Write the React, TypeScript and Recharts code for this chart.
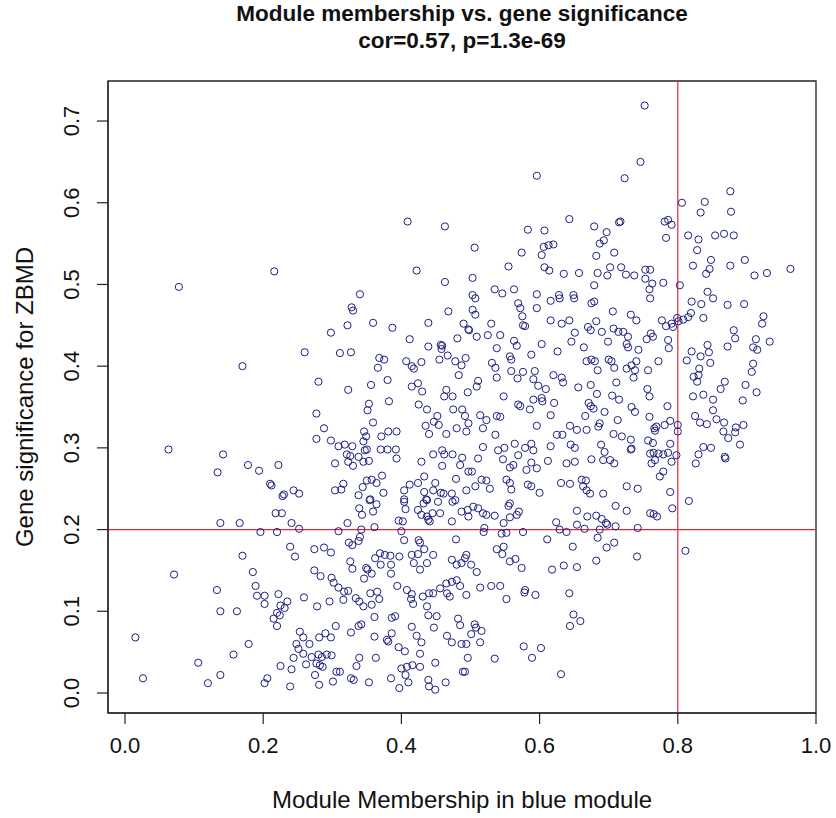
import { ScatterChart, Scatter, XAxis, YAxis, ReferenceLine, ReferenceArea } from 'recharts';

// module membership / gene significance pairs
const upperPoints: [number, number][] = [
  [0.078, 0.497], [0.216, 0.516], [0.409, 0.577], [0.463, 0.571], [0.422, 0.517], [0.463, 0.503], [0.340, 0.488],
  [0.752, 0.719], [0.746, 0.650], [0.723, 0.630], [0.596, 0.633], [0.643, 0.580], [0.583, 0.567], [0.607, 0.566],
  [0.679, 0.571], [0.697, 0.564], [0.715, 0.576], [0.717, 0.577], [0.693, 0.554], [0.687, 0.550], [0.506, 0.545],
  [0.574, 0.539], [0.606, 0.546], [0.613, 0.548], [0.620, 0.549], [0.603, 0.536], [0.682, 0.535], [0.708, 0.539],
  [0.555, 0.522], [0.607, 0.521], [0.614, 0.517], [0.635, 0.513], [0.657, 0.514], [0.684, 0.514], [0.698, 0.511],
  [0.702, 0.521], [0.718, 0.521], [0.725, 0.512], [0.737, 0.511], [0.753, 0.518], [0.760, 0.518], [0.753, 0.507],
  [0.763, 0.501], [0.759, 0.494], [0.679, 0.499], [0.503, 0.508], [0.535, 0.494], [0.546, 0.489], [0.563, 0.494],
  [0.596, 0.488], [0.628, 0.487], [0.649, 0.487], [0.503, 0.487],
  [0.876, 0.614], [0.806, 0.600], [0.839, 0.601], [0.833, 0.588], [0.877, 0.589], [0.781, 0.577], [0.786, 0.579],
  [0.791, 0.573], [0.783, 0.557], [0.815, 0.560], [0.830, 0.555], [0.828, 0.542], [0.854, 0.560], [0.867, 0.562],
  [0.881, 0.560], [0.822, 0.523], [0.848, 0.530], [0.846, 0.519], [0.841, 0.513], [0.876, 0.523], [0.897, 0.530],
  [0.911, 0.511], [0.929, 0.514], [0.963, 0.519], [0.779, 0.502], [0.803, 0.499], [0.843, 0.491],
];

const middleLeftPoints: [number, number][] = [
  [0.170, 0.400], [0.063, 0.298], [0.142, 0.292], [0.134, 0.270], [0.178, 0.279], [0.194, 0.272], [0.222, 0.279],
  [0.210, 0.256], [0.212, 0.254], [0.228, 0.241],
  [0.328, 0.472], [0.330, 0.468], [0.322, 0.450], [0.298, 0.441], [0.359, 0.453], [0.387, 0.447], [0.439, 0.453],
  [0.468, 0.467], [0.490, 0.452], [0.497, 0.445], [0.412, 0.433], [0.481, 0.434], [0.439, 0.424], [0.457, 0.426],
  [0.459, 0.425], [0.458, 0.421], [0.260, 0.417], [0.311, 0.416], [0.327, 0.417], [0.368, 0.410], [0.375, 0.408],
  [0.366, 0.398], [0.407, 0.406], [0.415, 0.400], [0.418, 0.397], [0.429, 0.405], [0.455, 0.408], [0.467, 0.413],
  [0.478, 0.406], [0.487, 0.401], [0.493, 0.410], [0.483, 0.389], [0.280, 0.381], [0.323, 0.371], [0.356, 0.377],
  [0.380, 0.383], [0.415, 0.375], [0.424, 0.379], [0.430, 0.369], [0.465, 0.371], [0.462, 0.363], [0.474, 0.363],
  [0.496, 0.368], [0.382, 0.357], [0.353, 0.354], [0.351, 0.346], [0.359, 0.331], [0.425, 0.353], [0.437, 0.347],
  [0.452, 0.339], [0.447, 0.332], [0.435, 0.327], [0.440, 0.317], [0.454, 0.328], [0.465, 0.317], [0.475, 0.347],
  [0.488, 0.347], [0.492, 0.339], [0.480, 0.324], [0.494, 0.320], [0.277, 0.342], [0.288, 0.324], [0.277, 0.311],
  [0.298, 0.309], [0.304, 0.281], [0.346, 0.320], [0.349, 0.314], [0.345, 0.308], [0.347, 0.297], [0.371, 0.314],
  [0.381, 0.320], [0.393, 0.320], [0.370, 0.298], [0.380, 0.298], [0.392, 0.298], [0.393, 0.287], [0.309, 0.302],
  [0.318, 0.304], [0.329, 0.302], [0.321, 0.292], [0.326, 0.290], [0.338, 0.289], [0.323, 0.283], [0.330, 0.278],
  [0.345, 0.283], [0.353, 0.284], [0.350, 0.298], [0.230, 0.243], [0.244, 0.248], [0.252, 0.244], [0.304, 0.248],
  [0.313, 0.249], [0.316, 0.256], [0.344, 0.252], [0.350, 0.260], [0.357, 0.261], [0.364, 0.257], [0.372, 0.266],
  [0.374, 0.245], [0.355, 0.237], [0.338, 0.242], [0.429, 0.283], [0.446, 0.292], [0.459, 0.297], [0.462, 0.292],
  [0.474, 0.292], [0.459, 0.278], [0.485, 0.279], [0.488, 0.288], [0.497, 0.271], [0.479, 0.262], [0.494, 0.248],
  [0.404, 0.248], [0.412, 0.255], [0.424, 0.257], [0.433, 0.265], [0.449, 0.257], [0.433, 0.246], [0.436, 0.237],
  [0.446, 0.248], [0.457, 0.245], [0.461, 0.244], [0.473, 0.244], [0.478, 0.236], [0.404, 0.237],
];

const middleRightPoints: [number, number][] = [
  [0.507, 0.483], [0.503, 0.469], [0.507, 0.463], [0.569, 0.477], [0.572, 0.471], [0.596, 0.471], [0.616, 0.480],
  [0.629, 0.483], [0.650, 0.483], [0.675, 0.477], [0.679, 0.479], [0.706, 0.467], [0.732, 0.463], [0.740, 0.456],
  [0.760, 0.483], [0.530, 0.452], [0.498, 0.444], [0.509, 0.436], [0.525, 0.438], [0.543, 0.438], [0.575, 0.461],
  [0.576, 0.450], [0.579, 0.449], [0.563, 0.431], [0.567, 0.425], [0.603, 0.427], [0.616, 0.456], [0.632, 0.452],
  [0.643, 0.456], [0.651, 0.441], [0.646, 0.430], [0.670, 0.448], [0.674, 0.444], [0.682, 0.455], [0.690, 0.442],
  [0.707, 0.446], [0.714, 0.442], [0.721, 0.442], [0.699, 0.430], [0.728, 0.436], [0.726, 0.427], [0.728, 0.423],
  [0.743, 0.420], [0.755, 0.433], [0.761, 0.440], [0.538, 0.422], [0.531, 0.404], [0.536, 0.398], [0.538, 0.386],
  [0.557, 0.412], [0.559, 0.408], [0.559, 0.394], [0.568, 0.385], [0.576, 0.393], [0.588, 0.414], [0.593, 0.394],
  [0.591, 0.384], [0.598, 0.376], [0.626, 0.418], [0.620, 0.389], [0.632, 0.386], [0.634, 0.380], [0.664, 0.423],
  [0.668, 0.406], [0.675, 0.408], [0.680, 0.406], [0.684, 0.395], [0.700, 0.408], [0.704, 0.406], [0.708, 0.398],
  [0.711, 0.380], [0.726, 0.397], [0.733, 0.401], [0.740, 0.406], [0.738, 0.395], [0.736, 0.386], [0.757, 0.395],
  [0.511, 0.382], [0.509, 0.375], [0.548, 0.363], [0.569, 0.353], [0.572, 0.351], [0.586, 0.347], [0.591, 0.359],
  [0.603, 0.361], [0.604, 0.357], [0.609, 0.372], [0.621, 0.355], [0.656, 0.374], [0.674, 0.377], [0.683, 0.366],
  [0.671, 0.355], [0.674, 0.351], [0.678, 0.348], [0.705, 0.364], [0.715, 0.359], [0.733, 0.350], [0.738, 0.344],
  [0.756, 0.372], [0.759, 0.363], [0.759, 0.338], [0.497, 0.330], [0.514, 0.340], [0.523, 0.334], [0.518, 0.324],
  [0.538, 0.339], [0.543, 0.338], [0.536, 0.316], [0.518, 0.301], [0.616, 0.340], [0.596, 0.327], [0.625, 0.316],
  [0.633, 0.316], [0.644, 0.327], [0.654, 0.322], [0.668, 0.322], [0.666, 0.339], [0.685, 0.326], [0.687, 0.330],
  [0.694, 0.344], [0.707, 0.317], [0.713, 0.334], [0.719, 0.314], [0.732, 0.310], [0.733, 0.299], [0.757, 0.309],
  [0.760, 0.293], [0.766, 0.324], [0.511, 0.287], [0.502, 0.271], [0.540, 0.297], [0.549, 0.300], [0.547, 0.286],
  [0.557, 0.276], [0.562, 0.279], [0.564, 0.305], [0.569, 0.291], [0.579, 0.300], [0.588, 0.305], [0.591, 0.297],
  [0.588, 0.282], [0.581, 0.273], [0.596, 0.275], [0.612, 0.284], [0.616, 0.302], [0.639, 0.281], [0.645, 0.304],
  [0.651, 0.300], [0.651, 0.283], [0.675, 0.286], [0.689, 0.304], [0.694, 0.295], [0.692, 0.285], [0.702, 0.285],
  [0.708, 0.281], [0.732, 0.298], [0.762, 0.281], [0.507, 0.253], [0.516, 0.261], [0.523, 0.260], [0.528, 0.250],
  [0.552, 0.261], [0.557, 0.257], [0.559, 0.249], [0.583, 0.255], [0.588, 0.253], [0.600, 0.245], [0.631, 0.257],
  [0.644, 0.256], [0.661, 0.261], [0.667, 0.260], [0.663, 0.253], [0.668, 0.248], [0.673, 0.244], [0.692, 0.244],
  [0.726, 0.253], [0.742, 0.250], [0.557, 0.232],
  [0.820, 0.479], [0.834, 0.476], [0.851, 0.483], [0.872, 0.475], [0.896, 0.476], [0.777, 0.456], [0.783, 0.449],
  [0.791, 0.452], [0.793, 0.448], [0.799, 0.459], [0.801, 0.455], [0.808, 0.457], [0.815, 0.460], [0.819, 0.465],
  [0.837, 0.459], [0.924, 0.461], [0.922, 0.452], [0.933, 0.430], [0.881, 0.444], [0.883, 0.434], [0.872, 0.424],
  [0.913, 0.433], [0.909, 0.423], [0.915, 0.420], [0.909, 0.403], [0.907, 0.393], [0.898, 0.377], [0.914, 0.368],
  [0.894, 0.358], [0.764, 0.436], [0.786, 0.432], [0.787, 0.422], [0.772, 0.406], [0.820, 0.418], [0.833, 0.412],
  [0.843, 0.426], [0.845, 0.417], [0.813, 0.407], [0.847, 0.404], [0.831, 0.397], [0.823, 0.387], [0.830, 0.389],
  [0.828, 0.381], [0.868, 0.381], [0.862, 0.372], [0.822, 0.363], [0.837, 0.365], [0.851, 0.359], [0.785, 0.351],
  [0.767, 0.321], [0.769, 0.326], [0.781, 0.328], [0.789, 0.333], [0.800, 0.328], [0.800, 0.320], [0.851, 0.346],
  [0.825, 0.339], [0.832, 0.331], [0.842, 0.329], [0.856, 0.335], [0.867, 0.331], [0.866, 0.320], [0.873, 0.312],
  [0.884, 0.325], [0.883, 0.319], [0.895, 0.328], [0.890, 0.304], [0.837, 0.301], [0.848, 0.300], [0.830, 0.292],
  [0.826, 0.281], [0.868, 0.289], [0.869, 0.287], [0.764, 0.306], [0.765, 0.294], [0.772, 0.293], [0.779, 0.292],
  [0.786, 0.294], [0.789, 0.305], [0.798, 0.291], [0.791, 0.283], [0.767, 0.285], [0.779, 0.271], [0.774, 0.265],
  [0.789, 0.246],
];

const lowerPoints: [number, number][] = [
  [0.138, 0.208], [0.166, 0.208], [0.196, 0.197], [0.220, 0.197], [0.218, 0.220], [0.227, 0.220], [0.170, 0.168],
  [0.071, 0.145], [0.185, 0.148], [0.133, 0.126], [0.189, 0.131], [0.191, 0.119], [0.202, 0.119], [0.202, 0.109],
  [0.222, 0.121], [0.225, 0.107], [0.138, 0.100], [0.162, 0.100], [0.220, 0.098], [0.215, 0.091], [0.220, 0.082],
  [0.015, 0.068], [0.179, 0.060], [0.157, 0.047], [0.106, 0.037], [0.225, 0.033], [0.026, 0.018], [0.138, 0.022],
  [0.120, 0.012], [0.206, 0.018], [0.202, 0.012],
  [0.816, 0.235], [0.792, 0.226], [0.770, 0.216], [0.765, 0.219], [0.811, 0.174],
  [0.555, 0.229], [0.504, 0.228], [0.511, 0.226], [0.518, 0.220], [0.523, 0.218], [0.497, 0.216], [0.535, 0.217],
  [0.557, 0.215], [0.567, 0.218], [0.570, 0.222], [0.548, 0.208], [0.520, 0.202], [0.519, 0.197], [0.545, 0.195],
  [0.552, 0.196], [0.576, 0.197], [0.654, 0.223], [0.669, 0.216], [0.682, 0.217], [0.690, 0.213], [0.696, 0.208],
  [0.710, 0.229], [0.726, 0.223], [0.624, 0.209], [0.629, 0.200], [0.639, 0.197], [0.654, 0.206], [0.665, 0.201],
  [0.687, 0.200], [0.698, 0.206], [0.710, 0.204], [0.742, 0.202], [0.760, 0.220], [0.611, 0.188], [0.648, 0.179],
  [0.684, 0.190], [0.708, 0.184], [0.697, 0.178], [0.741, 0.167], [0.682, 0.162], [0.538, 0.176], [0.548, 0.179],
  [0.546, 0.170], [0.557, 0.161], [0.565, 0.164], [0.574, 0.153], [0.618, 0.151], [0.635, 0.156], [0.654, 0.154],
  [0.494, 0.169], [0.501, 0.157], [0.509, 0.148], [0.514, 0.129], [0.530, 0.131], [0.543, 0.131], [0.552, 0.115],
  [0.579, 0.126], [0.578, 0.123], [0.594, 0.120], [0.494, 0.120], [0.643, 0.122], [0.649, 0.096], [0.659, 0.088],
  [0.644, 0.082], [0.506, 0.084], [0.508, 0.080], [0.501, 0.072], [0.516, 0.076], [0.514, 0.062], [0.494, 0.060],
  [0.496, 0.043], [0.492, 0.026], [0.535, 0.042], [0.577, 0.057], [0.602, 0.055], [0.589, 0.043], [0.631, 0.023],
  [0.241, 0.208], [0.252, 0.201], [0.339, 0.226], [0.343, 0.218], [0.354, 0.236], [0.359, 0.222], [0.364, 0.231],
  [0.322, 0.208], [0.309, 0.198], [0.342, 0.200], [0.361, 0.203], [0.406, 0.225], [0.404, 0.234], [0.396, 0.211],
  [0.402, 0.210], [0.400, 0.198], [0.424, 0.224], [0.432, 0.232], [0.437, 0.236], [0.429, 0.218], [0.437, 0.216],
  [0.441, 0.210], [0.445, 0.220], [0.439, 0.212], [0.453, 0.234], [0.456, 0.220], [0.473, 0.210], [0.474, 0.234],
  [0.487, 0.222], [0.496, 0.224], [0.239, 0.179], [0.246, 0.167], [0.274, 0.176], [0.288, 0.178], [0.298, 0.172],
  [0.324, 0.184], [0.329, 0.181], [0.338, 0.186], [0.340, 0.191], [0.404, 0.187], [0.425, 0.187], [0.427, 0.184],
  [0.433, 0.176], [0.479, 0.188], [0.369, 0.171], [0.376, 0.169], [0.384, 0.168], [0.397, 0.167], [0.362, 0.165],
  [0.370, 0.157], [0.385, 0.157], [0.385, 0.146], [0.415, 0.169], [0.424, 0.170], [0.446, 0.169], [0.418, 0.159],
  [0.427, 0.151], [0.437, 0.159], [0.326, 0.161], [0.329, 0.152], [0.349, 0.153], [0.351, 0.151], [0.357, 0.146],
  [0.346, 0.140], [0.473, 0.163], [0.480, 0.157], [0.487, 0.159], [0.492, 0.165], [0.274, 0.150], [0.283, 0.143],
  [0.299, 0.141], [0.302, 0.135], [0.309, 0.129], [0.317, 0.124], [0.323, 0.125], [0.235, 0.112], [0.231, 0.104],
  [0.224, 0.095], [0.259, 0.117], [0.278, 0.106], [0.296, 0.112], [0.316, 0.114], [0.334, 0.116], [0.339, 0.112],
  [0.345, 0.106], [0.355, 0.122], [0.365, 0.124], [0.368, 0.115], [0.357, 0.108], [0.394, 0.131], [0.408, 0.126],
  [0.415, 0.121], [0.414, 0.115], [0.417, 0.109], [0.431, 0.118], [0.440, 0.122], [0.446, 0.122], [0.456, 0.128],
  [0.465, 0.134], [0.473, 0.136], [0.480, 0.138], [0.485, 0.131], [0.437, 0.106], [0.439, 0.095], [0.451, 0.094],
  [0.482, 0.091], [0.466, 0.122], [0.470, 0.118], [0.361, 0.093], [0.386, 0.092], [0.391, 0.094], [0.305, 0.082],
  [0.338, 0.082], [0.342, 0.084], [0.327, 0.074], [0.253, 0.075], [0.258, 0.068], [0.267, 0.060], [0.248, 0.060],
  [0.251, 0.054], [0.281, 0.068], [0.290, 0.073], [0.298, 0.068], [0.361, 0.069], [0.386, 0.073], [0.381, 0.063],
  [0.379, 0.065], [0.396, 0.056], [0.405, 0.051], [0.415, 0.081], [0.422, 0.070], [0.429, 0.062], [0.427, 0.048],
  [0.447, 0.080], [0.466, 0.070], [0.473, 0.062], [0.487, 0.060], [0.485, 0.083], [0.258, 0.048], [0.270, 0.044],
  [0.244, 0.043], [0.262, 0.035], [0.280, 0.047], [0.285, 0.044], [0.292, 0.047], [0.299, 0.046], [0.277, 0.036],
  [0.282, 0.034], [0.286, 0.032], [0.241, 0.029], [0.275, 0.022], [0.239, 0.008], [0.281, 0.010], [0.306, 0.026],
  [0.311, 0.026], [0.301, 0.014], [0.327, 0.018], [0.331, 0.016], [0.339, 0.043], [0.335, 0.033], [0.353, 0.013],
  [0.363, 0.043], [0.385, 0.018], [0.397, 0.006], [0.400, 0.030], [0.408, 0.032], [0.406, 0.022], [0.410, 0.013],
  [0.416, 0.034], [0.427, 0.032], [0.439, 0.016], [0.440, 0.008], [0.449, 0.004], [0.449, 0.037], [0.464, 0.013],
  [0.489, 0.026],
];

const xTicks = [0, 0.2, 0.4, 0.6, 0.8, 1.0];
const yTicks = [0, 0.1, 0.2, 0.3, 0.4, 0.5, 0.6, 0.7];

const xDomain: [number, number] = [-0.0246, 1.0];
const yDomain: [number, number] = [-0.0245, 0.749];

const FONT = '"Liberation Sans", Arial, sans-serif';
const TICK_FS = 22;
const TITLE_FS = 22.5;
const LAB_FS = 24;
const POINT_COLOR = '#1f1f80';
const LINE_RED = '#dd2a3a';

const data = [...upperPoints, ...middleLeftPoints, ...middleRightPoints, ...lowerPoints].map(([x, y]) => ({ x, y }));

const XTick = (props: any) => (
  <text x={props.x} y={745} textAnchor="middle" dominantBaseline="central" fontSize={TICK_FS} fontFamily={FONT} fill="#111">
    {props.payload.value.toFixed(1)}
  </text>
);

const YTick = (props: any) => (
  <text
    x={72}
    y={props.y}
    transform={`rotate(-90, 72, ${props.y})`}
    textAnchor="middle"
    dominantBaseline="central"
    fontSize={TICK_FS}
    fontFamily={FONT}
    fill="#111"
  >
    {props.payload.value.toFixed(1)}
  </text>
);

const Ring = (props: any) => (
  <circle cx={props.cx} cy={props.cy} r={3.6} fill="none" stroke={POINT_COLOR} strokeWidth={1} />
);

export default function App() {
  return (
    <div style={{ position: 'absolute', left: 0, top: 0, width: 836, height: 818, background: '#fff', fontFamily: FONT }}>
      <div
        style={{
          position: 'absolute', left: 108, top: 0, width: 708, textAlign: 'center',
          fontWeight: 'bold', fontSize: TITLE_FS, lineHeight: '27px', color: '#111',
        }}
      >
        <div>Module membership vs. gene significance</div>
        <div>cor=0.57, p=1.3e-69</div>
      </div>
      <ScatterChart width={836} height={818} margin={{ top: 81, right: 20, bottom: 0, left: 0 }}>
        <XAxis
          type="number"
          dataKey="x"
          domain={xDomain}
          ticks={xTicks}
          interval={0}
          allowDataOverflow
          height={105}
          tickSize={11}
          tick={<XTick />}
          axisLine={{ stroke: '#222', strokeWidth: 1.2 }}
          tickLine={{ stroke: '#222', strokeWidth: 1.2 }}
        />
        <YAxis
          type="number"
          dataKey="y"
          domain={yDomain}
          ticks={yTicks}
          interval={0}
          allowDataOverflow
          width={108}
          tickSize={11}
          tick={<YTick />}
          axisLine={{ stroke: '#222', strokeWidth: 1.2 }}
          tickLine={{ stroke: '#222', strokeWidth: 1.2 }}
        />
        <ReferenceArea
          x1={xDomain[0]}
          x2={xDomain[1]}
          y1={yDomain[0]}
          y2={yDomain[1]}
          fill="none"
          fillOpacity={0}
          stroke="#222"
          strokeWidth={1.3}
          ifOverflow="visible"
        />
        <Scatter data={data} shape={<Ring />} isAnimationActive={false} />
        <ReferenceLine x={0.8} stroke={LINE_RED} strokeWidth={1.2} />
        <ReferenceLine y={0.2} stroke={LINE_RED} strokeWidth={1.2} />
      </ScatterChart>
      <div
        style={{
          position: 'absolute', left: 108, top: 786, width: 708, textAlign: 'center',
          fontSize: LAB_FS, lineHeight: '28px', color: '#111',
        }}
      >
        Module Membership in blue module
      </div>
      <div
        style={{
          position: 'absolute', left: 25 - 316, top: 397 - 14, width: 632, height: 28,
          textAlign: 'center', fontSize: LAB_FS, lineHeight: '28px', color: '#111',
          transform: 'rotate(-90deg)',
        }}
      >
        Gene significance for ZBMD
      </div>
    </div>
  );
}
